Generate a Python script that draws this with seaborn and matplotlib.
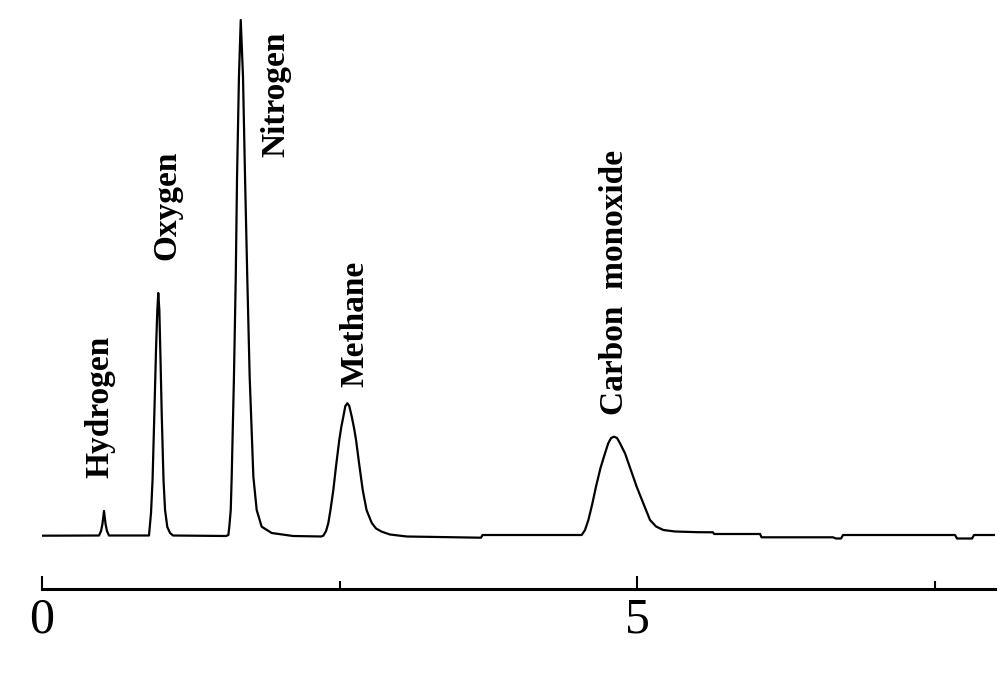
import numpy as np
import pandas as pd
import matplotlib
matplotlib.use('Agg')
import matplotlib.pyplot as plt
import seaborn as sns

# retention time (min) and detector signal
time = [0.000, 0.479,
        0.496, 0.508, 0.521, 0.534, 0.546, 0.563,
        0.899, 0.916, 0.929, 0.944, 0.958, 0.969, 0.977, 0.986, 0.996, 1.006,
        1.021, 1.034, 1.053, 1.076, 1.101,
        1.546, 1.566, 1.574, 1.586, 1.594, 1.613, 1.628, 1.639, 1.655, 1.670,
        1.689, 1.706, 1.725, 1.745, 1.776, 1.804, 1.846, 1.930, 2.109,
        2.345, 2.364, 2.387, 2.406, 2.424, 2.448, 2.471, 2.498, 2.515, 2.532,
        2.549, 2.566, 2.582, 2.603, 2.622, 2.639, 2.664, 2.695, 2.727, 2.771,
        2.807, 2.855, 2.924, 3.065,
        3.689, 3.702, 4.513,
        4.535, 4.563, 4.591, 4.622, 4.655, 4.693, 4.731, 4.758, 4.782, 4.807,
        4.832, 4.857, 4.899, 4.945, 4.997, 5.055, 5.109, 5.160, 5.221, 5.319,
        5.513, 5.639, 5.647, 6.034, 6.046, 6.647, 6.672, 6.714, 6.731,
        7.672, 7.689, 7.815, 7.832, 8.008]
signal = [0.3, 0.5,
          5, 12, 25, 12, 5, 0.5,
          0.5, 23, 56, 122, 186, 226, 243, 226, 176, 122,
          56, 26, 9, 3, 0.5,
          0, 1, 9.3, 26, 59.3, 159.3, 258, 359.3, 459.3, 516,
          459.3, 359.3, 258, 159.3, 59.3, 26, 9.3, 3, 0,
          -0.5, 0.3, 5, 13, 26, 46, 70, 96, 109, 119.3,
          130, 132.7, 130, 119.3, 108, 96, 73, 46, 26, 13,
          7.5, 4.3, 1.5, -0.5,
          -1.7, 1, 1,
          1, 6, 16, 31, 49.3, 68, 82.7, 92.7, 98, 99.3,
          98, 92.7, 82.7, 67, 49.3, 32, 16, 9.5, 6, 4.5,
          3.8, 3.7, 2, 2, -1.3, -1.3, -2.5, -2.5, 1,
          1, -2.5, -2.5, 1, 1]

peak_names = ['Hydrogen', 'Oxygen', 'Nitrogen', 'Methane', 'Carbon  monoxide']

df = pd.DataFrame({'time': time, 'signal': signal})

sns.set_style('white')
plt.rcParams['font.family'] = ['Liberation Serif', 'DejaVu Serif']

fig = plt.figure(figsize=(10, 6.83), dpi=100)
ax = fig.add_axes([0.042, 94 / 683, 0.953, 584 / 683])

sns.lineplot(data=df, x='time', y='signal', color='black', linewidth=1.6,
             estimator=None, ax=ax)
ax.lines[0].set_solid_joinstyle('round')

# label anchors (centre, bottom of the rotated text)
label_pos = [(0.487, 58), (1.050, 276), (1.966, 379), (2.630, 149), (4.807, 121)]
for name, (lx, ly) in zip(peak_names, label_pos):
    ax.text(lx, ly, name, rotation=90, ha='center', va='bottom',
            fontsize=24, fontweight='bold', color='black')

ax.set_xlim(0, 8.008)
ax.set_ylim(-53, 531)
ax.set_xticks([0, 5])
ax.set_xticklabels(['0', '5'])
ax.set_xticks([2.5, 7.5], minor=True)
ax.set_yticks([])
ax.set_xlabel('')
ax.set_ylabel('')
for side in ['left', 'top', 'right']:
    ax.spines[side].set_visible(False)
ax.spines['bottom'].set_linewidth(2.2)
ax.spines['bottom'].set_color('black')
ax.tick_params(axis='x', which='major', direction='in', length=9.5, width=1.5,
               labelsize=36, pad=6, colors='black', bottom=True)
ax.tick_params(axis='x', which='minor', direction='in', length=6, width=1.5,
               bottom=True, colors='black')

fig.savefig('out.png', dpi=100)
